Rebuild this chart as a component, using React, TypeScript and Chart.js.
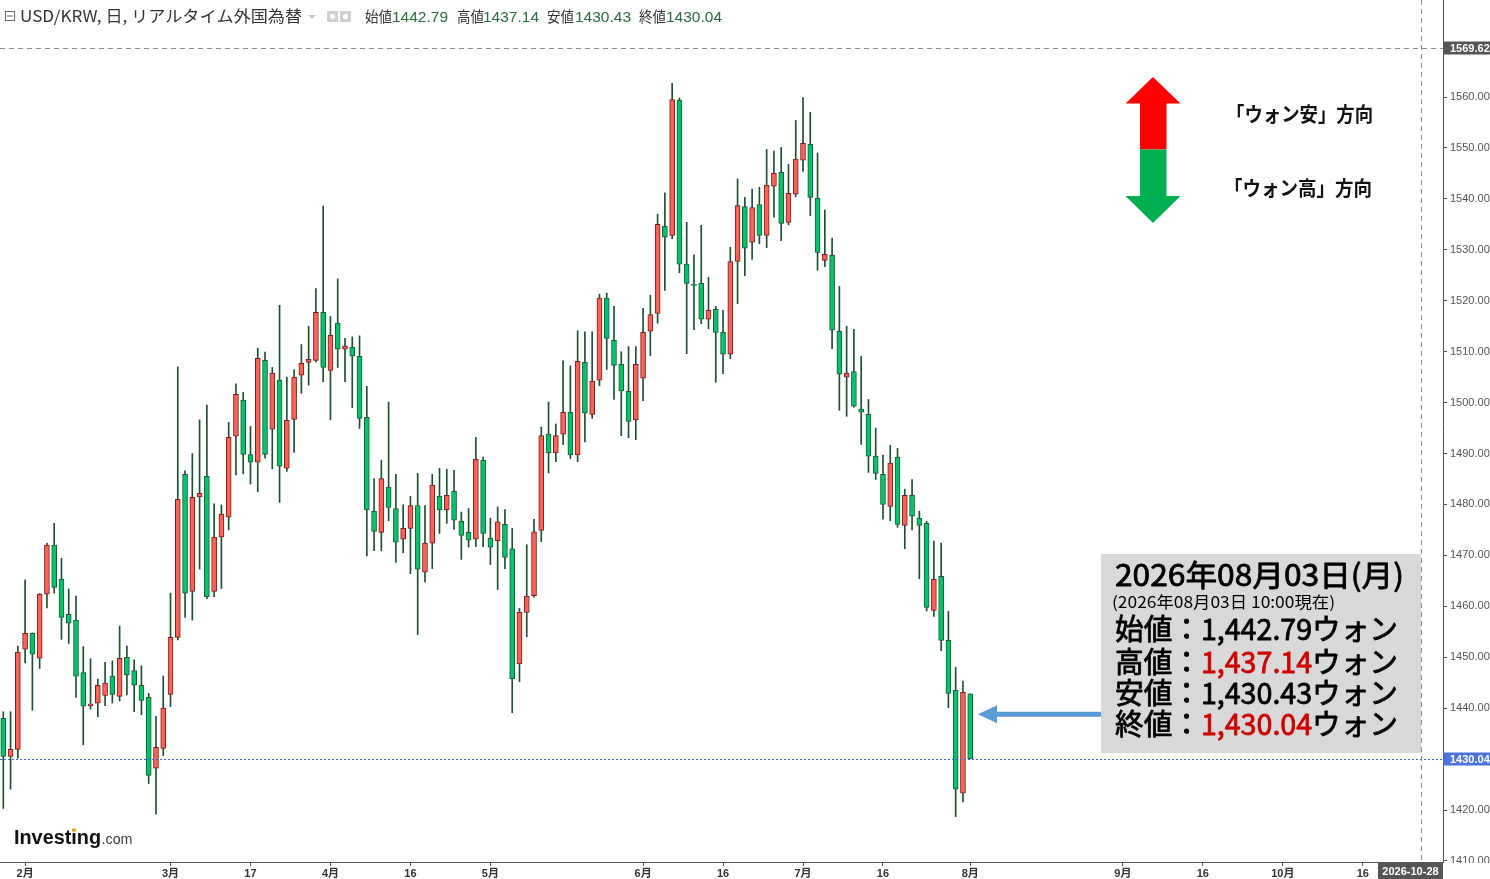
import React, { useEffect, useRef } from "react";
import { Chart, registerables } from "chart.js";

Chart.register(...registerables);

// ---- data (daily candles, 2026-01-28 .. 2026-08-03) ----
const opens = [
  1438.0, 1430.5, 1431.9, 1451.6, 1454.7, 1449.8, 1462.4, 1472.0, 1465.3, 1458.4,
  1457.3, 1447.0, 1440.5, 1441.0, 1442.5, 1446.3, 1442.3, 1450.0, 1447.4, 1444.5,
  1442.1, 1428.2, 1432.1, 1442.7, 1453.9, 1485.9, 1462.9, 1481.5, 1485.5, 1462.9,
  1473.6, 1477.5, 1493.4, 1500.5, 1489.8, 1488.3, 1508.3, 1494.8, 1504.4, 1487.1,
  1496.7, 1505.4, 1507.9, 1508.3, 1517.7, 1506.3, 1515.6, 1510.5, 1510.9, 1509.1,
  1497.1, 1478.7, 1474.5, 1483.4, 1479.2, 1473.2, 1475.3, 1479.8, 1466.7, 1472.4,
  1481.6, 1478.9, 1482.6, 1476.7, 1474.5, 1473.2, 1488.7, 1473.4, 1472.9, 1476.1,
  1471.3, 1448.7, 1458.8, 1462.1, 1474.9, 1493.8, 1490.1, 1493.8, 1498.1, 1489.7,
  1507.9, 1497.7, 1504.4, 1520.5, 1512.2, 1507.5, 1502.2, 1496.6, 1504.8, 1514.0,
  1517.5, 1534.6, 1532.8, 1559.4, 1527.2, 1523.2, 1523.4, 1516.4, 1518.3, 1513.8,
  1509.5, 1527.7, 1538.5, 1531.5, 1538.9, 1532.8, 1542.5, 1545.2, 1535.4, 1540.9,
  1547.6, 1550.7, 1540.1, 1527.9, 1528.9, 1514.0, 1505.0, 1506.1, 1498.7, 1497.7,
  1489.5, 1485.9, 1479.6, 1489.3, 1475.9, 1481.8, 1477.3, 1476.3, 1459.2, 1465.9,
  1453.3, 1443.5, 1423.3, 1442.79,
];
const highs = [
  1439.3, 1439.3, 1452.2, 1465.2, 1454.8, 1462.5, 1472.4, 1476.3, 1469.4, 1463.4,
  1462.0, 1452.1, 1449.7, 1445.7, 1449.0, 1449.3, 1456.1, 1452.2, 1449.5, 1448.3,
  1442.9, 1438.4, 1446.3, 1462.6, 1507.0, 1486.6, 1490.0, 1496.6, 1499.5, 1480.1,
  1479.9, 1496.1, 1503.7, 1502.0, 1495.3, 1510.7, 1509.9, 1506.9, 1519.1, 1505.0,
  1506.5, 1511.4, 1515.0, 1522.4, 1538.6, 1516.9, 1524.3, 1512.6, 1512.9, 1513.1,
  1503.2, 1485.1, 1488.7, 1500.1, 1485.9, 1479.9, 1481.6, 1486.1, 1479.8, 1485.9,
  1487.1, 1486.9, 1486.7, 1478.5, 1479.2, 1493.2, 1489.3, 1477.3, 1479.5, 1479.0,
  1475.3, 1459.6, 1472.1, 1477.1, 1495.2, 1500.1, 1495.8, 1508.2, 1507.2, 1514.1,
  1513.9, 1513.9, 1521.3, 1521.5, 1518.9, 1510.0, 1511.0, 1511.0, 1518.5, 1521.1,
  1537.0, 1541.2, 1562.7, 1559.8, 1535.4, 1529.0, 1534.8, 1524.6, 1518.9, 1518.1,
  1530.5, 1543.9, 1540.3, 1541.9, 1542.3, 1549.7, 1549.4, 1550.1, 1546.8, 1555.4,
  1559.9, 1557.0, 1549.0, 1537.8, 1532.3, 1522.8, 1515.0, 1514.4, 1509.1, 1500.6,
  1495.0, 1489.7, 1491.6, 1491.0, 1483.0, 1484.9, 1478.7, 1476.7, 1472.8, 1472.4,
  1459.0, 1448.0, 1445.3, 1442.79,
];
const lows = [
  1420.3, 1424.1, 1430.2, 1448.9, 1439.6, 1447.8, 1459.7, 1462.6, 1453.5, 1452.7,
  1442.1, 1432.8, 1439.8, 1438.3, 1440.5, 1441.0, 1441.4, 1442.6, 1439.3, 1438.7,
  1425.2, 1419.2, 1430.7, 1440.3, 1453.4, 1457.8, 1457.3, 1467.3, 1461.5, 1461.9,
  1463.5, 1475.0, 1485.8, 1486.0, 1484.0, 1482.5, 1489.1, 1487.0, 1480.4, 1486.5,
  1490.2, 1501.8, 1503.4, 1508.0, 1504.1, 1496.6, 1506.9, 1504.1, 1499.0, 1494.9,
  1469.9, 1470.9, 1470.9, 1476.8, 1468.6, 1470.5, 1466.4, 1454.4, 1464.8, 1467.4,
  1474.3, 1476.3, 1475.1, 1469.2, 1471.6, 1471.7, 1471.7, 1468.2, 1463.3, 1467.4,
  1439.1, 1445.2, 1454.0, 1461.8, 1472.7, 1486.2, 1488.4, 1491.8, 1489.0, 1488.4,
  1492.3, 1496.9, 1503.3, 1506.5, 1500.6, 1493.5, 1493.1, 1492.7, 1500.4, 1509.2,
  1515.6, 1522.0, 1532.2, 1525.5, 1509.6, 1514.3, 1515.5, 1514.5, 1504.0, 1505.7,
  1508.6, 1519.4, 1524.9, 1528.1, 1531.2, 1530.4, 1536.4, 1531.8, 1534.9, 1540.4,
  1545.4, 1536.7, 1526.0, 1526.7, 1510.6, 1498.5, 1497.3, 1499.1, 1491.8, 1486.3,
  1484.9, 1477.1, 1476.8, 1475.5, 1471.3, 1475.0, 1465.4, 1459.1, 1458.0, 1451.3,
  1440.1, 1418.7, 1421.6, 1430.04,
];
const closes = [
  1430.5, 1431.9, 1451.0, 1454.7, 1450.6, 1462.4, 1472.0, 1463.7, 1457.8, 1456.7,
  1446.3, 1440.4, 1440.8, 1444.5, 1444.9, 1442.7, 1449.8, 1446.5, 1444.5, 1441.5,
  1426.8, 1432.3, 1440.0, 1453.9, 1481.0, 1462.6, 1481.4, 1482.2, 1461.9, 1473.6,
  1478.1, 1493.2, 1501.6, 1489.8, 1488.3, 1508.7, 1489.8, 1505.8, 1487.5, 1496.5,
  1505.0, 1507.7, 1508.5, 1517.7, 1506.9, 1513.2, 1510.5, 1511.1, 1509.1, 1496.9,
  1478.9, 1474.7, 1485.1, 1479.4, 1472.6, 1475.3, 1479.8, 1467.3, 1472.4, 1483.8,
  1478.9, 1481.8, 1476.9, 1473.9, 1473.0, 1488.9, 1474.3, 1471.6, 1476.6, 1469.6,
  1445.8, 1458.8, 1462.0, 1474.6, 1493.5, 1490.1, 1493.5, 1498.1, 1489.7, 1508.1,
  1497.9, 1504.2, 1520.5, 1512.6, 1507.3, 1502.3, 1496.3, 1507.5, 1513.8, 1517.3,
  1535.0, 1532.5, 1559.5, 1527.2, 1523.4, 1523.0, 1516.4, 1518.1, 1513.8, 1509.5,
  1527.7, 1538.7, 1530.3, 1538.3, 1532.8, 1542.7, 1545.0, 1535.2, 1541.1, 1547.8,
  1550.9, 1540.3, 1529.5, 1529.1, 1514.2, 1505.6, 1505.8, 1499.3, 1498.1, 1489.5,
  1486.1, 1480.0, 1488.1, 1476.1, 1481.8, 1477.7, 1475.9, 1459.8, 1465.3, 1453.3,
  1442.9, 1424.1, 1443.1, 1430.04,
];

// x-axis tick positions (trading-day index) and their labels
const tickIndex = [3, 23, 34, 45, 56, 67, 88, 99, 110, 121, 133, 154, 165, 176, 187];
const tickLabels = ["2月", "3月", "17", "4月", "16", "5月", "6月", "16", "7月", "16", "8月", "9月", "16", "10月", "16"];
const priceTicks = [1410, 1420, 1430, 1440, 1450, 1460, 1470, 1480, 1490, 1500, 1510, 1520, 1530, 1540, 1550, 1560];

const lastClose = 1430.04;
const crossPrice = 1569.62;
const crossIndex = 195;
const crossDate = "2026-10-28";
const pointerPrice = 1438.8;

const headerTitle = "USD/KRW, 日, リアルタイム外国為替";
const headerLabels = ["始値", "高値", "安値", "終値"];
const headerValues = ["1442.79", "1437.14", "1430.43", "1430.04"];

const boxTitle = "2026年08月03日(月)";
const boxSub = "(2026年08月03日 10:00現在)";
const boxLabels = ["始値：", "高値：", "安値：", "終値："];
const boxValues = ["1,442.79", "1,437.14", "1,430.43", "1,430.04"];
const boxRed = [false, true, false, true];
const arrowTexts = ["「ウォン安」方向", "「ウォン高」方向"];

const RED_FILL = "#fb6356";
const RED_EDGE = "#7a1d1d";
const GREEN_FILL = "#00c46b";
const GREEN_EDGE = "#1b5a35";
const WICK = "#1d5030";

const LATIN = "'Liberation Sans', 'Noto Sans CJK JP', sans-serif";
const JP = "'Noto Sans CJK JP', 'Liberation Sans', sans-serif";

function fitText(
  ctx: CanvasRenderingContext2D,
  text: string,
  x: number,
  y: number,
  w: number,
  font: string,
  color: string,
  thicken = 0
) {
  ctx.save();
  ctx.font = font;
  ctx.textBaseline = "alphabetic";
  ctx.textAlign = "left";
  const m = ctx.measureText(text).width || 1;
  ctx.translate(x, y);
  ctx.scale(w / m, 1);
  ctx.fillStyle = color;
  ctx.fillText(text, 0, 0);
  if (thicken > 0) {
    ctx.strokeStyle = color;
    ctx.lineWidth = thicken;
    ctx.lineJoin = "round";
    ctx.strokeText(text, 0, 0);
  }
  ctx.restore();
}

function fitRuns(ctx: CanvasRenderingContext2D, runs: [string, string][], x: number, y: number, w: number, font: string, thicken = 0) {
  ctx.save();
  ctx.font = font;
  ctx.textBaseline = "alphabetic";
  ctx.textAlign = "left";
  let total = 0;
  for (const r of runs) total += ctx.measureText(r[0]).width;
  ctx.translate(x, y);
  ctx.scale(w / total, 1);
  let cx = 0;
  for (const [t, c] of runs) {
    ctx.fillStyle = c;
    ctx.fillText(t, cx, 0);
    if (thicken > 0) {
      ctx.strokeStyle = c;
      ctx.lineWidth = thicken;
      ctx.lineJoin = "round";
      ctx.strokeText(t, cx, 0);
    }
    cx += ctx.measureText(t).width;
  }
  ctx.restore();
}

function axisLabel(ctx: CanvasRenderingContext2D, text: string, cy: number, bg: string) {
  ctx.save();
  ctx.fillStyle = bg;
  ctx.fillRect(1443.5, Math.round(cy) - 6.5, 47, 13);
  ctx.fillStyle = "#ffffff";
  ctx.font = "bold 11px " + LATIN;
  ctx.textBaseline = "middle";
  ctx.textAlign = "left";
  ctx.fillText(text, 1450, Math.round(cy) + 0.5);
  ctx.restore();
}

const overlay = {
  id: "overlay",
  afterDatasetsDraw(chart: any) {
    const ctx: CanvasRenderingContext2D = chart.ctx;
    const { left, right, top, bottom } = chart.chartArea;
    const ys = chart.scales.y;
    const xs = chart.scales.x;
    ctx.save();
    const py = Math.round(ys.getPixelForValue(lastClose)) + 0.5;
    ctx.strokeStyle = "#3f63da";
    ctx.lineWidth = 1;
    ctx.setLineDash([2, 2]);
    ctx.beginPath();
    ctx.moveTo(left, py);
    ctx.lineTo(right, py);
    ctx.stroke();
    const cy = Math.round(ys.getPixelForValue(crossPrice)) + 0.5;
    const cx = Math.round(xs.getPixelForValue(crossIndex)) + 0.5;
    ctx.strokeStyle = "#8c8c8c";
    ctx.setLineDash([5, 4]);
    ctx.beginPath();
    ctx.moveTo(left, cy);
    ctx.lineTo(right, cy);
    ctx.moveTo(cx, top);
    ctx.lineTo(cx, bottom);
    ctx.stroke();
    ctx.restore();
  },
  afterDraw(chart: any) {
    const ctx: CanvasRenderingContext2D = chart.ctx;
    const ys = chart.scales.y;
    const { right, bottom } = chart.chartArea;

    ctx.save();
    ctx.fillStyle = "#ffffff";
    ctx.fillRect(right + 1, bottom + 1, 60, 30);
    ctx.restore();

    axisLabel(ctx, crossPrice.toFixed(2), ys.getPixelForValue(crossPrice), "#555555");
    axisLabel(ctx, lastClose.toFixed(2), ys.getPixelForValue(lastClose), "#4c72e2");

    ctx.save();
    ctx.fillStyle = "#555555";
    ctx.fillRect(1378, bottom + 1, right - 1378, 17);
    ctx.fillStyle = "#ffffff";
    ctx.font = "bold 11px " + LATIN;
    ctx.textAlign = "center";
    ctx.textBaseline = "middle";
    ctx.fillText(crossDate, (1378 + right) / 2, bottom + 10);
    ctx.restore();

    // ---- header ----
    ctx.save();
    ctx.strokeStyle = "#666";
    ctx.lineWidth = 1;
    ctx.strokeRect(5.5, 11.5, 9, 9);
    ctx.beginPath();
    ctx.moveTo(7, 16);
    ctx.lineTo(13, 16);
    ctx.stroke();
    ctx.restore();
    fitText(ctx, headerTitle, 20, 22, 282, "16px " + JP, "#333333");
    ctx.save();
    ctx.fillStyle = "#c4c4c4";
    ctx.beginPath();
    ctx.moveTo(308, 15);
    ctx.lineTo(316, 15);
    ctx.lineTo(312, 19);
    ctx.closePath();
    ctx.fill();
    for (const ix of [327, 340]) {
      ctx.fillStyle = "#d0d0d0";
      ctx.fillRect(ix, 11, 11, 11);
      ctx.fillStyle = "#ffffff";
      ctx.beginPath();
      ctx.arc(ix + 5.5, 16.5, 2.6, 0, Math.PI * 2);
      ctx.fill();
    }
    ctx.restore();
    const labX = [365, 457, 547, 639];
    const valX = [392, 483, 575, 666];
    for (let i = 0; i < 4; i++) {
      fitText(ctx, headerLabels[i], labX[i], 22, 27, "15px " + JP, "#333333");
      fitText(ctx, headerValues[i], valX[i], 22, 56, "15px " + LATIN, "#2a6c3c");
    }

    // ---- up/down arrow legend ----
    ctx.save();
    ctx.fillStyle = "#ff0000";
    ctx.beginPath();
    ctx.moveTo(1153, 77);
    ctx.lineTo(1180.5, 103.5);
    ctx.lineTo(1166.5, 103.5);
    ctx.lineTo(1166.5, 149.5);
    ctx.lineTo(1140, 149.5);
    ctx.lineTo(1140, 103.5);
    ctx.lineTo(1125.5, 103.5);
    ctx.closePath();
    ctx.fill();
    ctx.fillStyle = "#00b050";
    ctx.beginPath();
    ctx.moveTo(1140, 149.5);
    ctx.lineTo(1166.5, 149.5);
    ctx.lineTo(1166.5, 196);
    ctx.lineTo(1180.5, 196);
    ctx.lineTo(1153, 223);
    ctx.lineTo(1125.5, 196);
    ctx.lineTo(1140, 196);
    ctx.closePath();
    ctx.fill();
    ctx.restore();
    fitText(ctx, arrowTexts[0], 1226, 122, 147, "bold 20px " + JP, "#111111");
    fitText(ctx, arrowTexts[1], 1224, 196, 148, "bold 20px " + JP, "#111111");

    // ---- info box ----
    ctx.save();
    ctx.fillStyle = "#d9d9d9";
    ctx.fillRect(1101, 554, 320, 199);
    ctx.restore();
    fitText(ctx, boxTitle, 1115, 586, 289, "30px " + JP, "#000000", 0.8);
    fitText(ctx, boxSub, 1112, 608, 223, "16px " + JP, "#000000");
    const rowY = [640, 672.5, 703.5, 735];
    for (let i = 0; i < 4; i++) {
      fitRuns(
        ctx,
        [
          [boxLabels[i], "#000000"],
          [boxValues[i], boxRed[i] ? "#cc0000" : "#000000"],
          ["ウォン", "#000000"],
        ],
        1115,
        rowY[i],
        283,
        "29px " + JP,
        0.8
      );
    }

    // ---- blue pointer arrow ----
    const ay = ys.getPixelForValue(pointerPrice);
    ctx.save();
    ctx.fillStyle = "#5b9bd5";
    ctx.fillRect(996, ay - 2.5, 1101 - 996, 5);
    ctx.beginPath();
    ctx.moveTo(978, ay);
    ctx.lineTo(997, ay - 9);
    ctx.lineTo(997, ay + 9);
    ctx.closePath();
    ctx.fill();
    ctx.restore();

    // ---- Investing.com logo ----
    ctx.save();
    ctx.font = "bold 20px " + LATIN;
    const wInv = ctx.measureText("Investing").width;
    const sInv = 87 / wInv;
    const iPos = (ctx.measureText("Invest").width + ctx.measureText("i").width / 2) * sInv;
    ctx.restore();
    fitText(ctx, "Investing", 14, 844, 87, "bold 20px " + LATIN, "#111111");
    fitText(ctx, ".com", 101.5, 844, 31, "15px " + LATIN, "#3a3a3a");
    ctx.save();
    ctx.fillStyle = "#f5a01a";
    ctx.fillRect(14 + iPos - 1.6, 828.5, 3.2, 3.2);
    ctx.restore();
  },
};

export default function App() {
  const ref = useRef<HTMLCanvasElement | null>(null);

  useEffect(() => {
    if (!ref.current) return;
    const idx = opens.map((_, i) => i);
    const up = idx.map((i) => closes[i] >= opens[i]);
    const chart = new Chart(ref.current, {
      type: "bar",
      data: {
        datasets: [
          {
            label: "body",
            data: idx.map((i) => ({ x: i, y: [opens[i], closes[i]] })) as any,
            backgroundColor: up.map((u) => (u ? RED_FILL : GREEN_FILL)),
            borderColor: up.map((u) => (u ? RED_EDGE : GREEN_EDGE)),
            borderWidth: 1,
            borderSkipped: false,
            barThickness: 5,
            grouped: false,
            order: 0,
          } as any,
          {
            label: "wick",
            data: idx.map((i) => ({ x: i, y: [lows[i], highs[i]] })) as any,
            backgroundColor: WICK,
            borderWidth: 0,
            barThickness: 1,
            grouped: false,
            order: 1,
          } as any,
        ],
      },
      options: {
        animation: false,
        responsive: false,
        events: [],
        layout: { padding: 0 },
        plugins: { legend: { display: false }, tooltip: { enabled: false } },
        scales: {
          x: {
            type: "linear",
            min: -0.454,
            max: 198.03,
            offset: false,
            grid: { display: true, offset: false, drawOnChartArea: false, drawTicks: true, tickLength: 4, color: "#555555" },
            border: { display: true, color: "#555555" },
            ticks: {
              autoSkip: false,
              maxRotation: 0,
              padding: 1,
              color: "#333333",
              font: { size: 11, weight: "bold", family: LATIN },
              callback: (_v: any, i: number) => tickLabels[i] ?? "",
            },
            afterBuildTicks: (s: any) => {
              s.ticks = tickIndex.map((v) => ({ value: v }));
            },
            afterFit: (s: any) => {
              s.height = 17;
              s.paddingLeft = 0;
              s.paddingRight = 0;
            },
          } as any,
          y: {
            type: "linear",
            position: "right",
            min: 1409.79,
            max: 1579.05,
            grid: { display: true, offset: false, drawOnChartArea: false, drawTicks: true, tickLength: 4, color: "#555555" },
            border: { display: true, color: "#555555" },
            ticks: {
              padding: 3,
              color: "#555555",
              font: { size: 11, family: LATIN },
              callback: (v: any) => Number(v).toFixed(2),
            },
            afterBuildTicks: (s: any) => {
              s.ticks = priceTicks.map((v) => ({ value: v }));
            },
            afterFit: (s: any) => {
              s.width = 47;
              s.paddingTop = 0;
              s.paddingBottom = 0;
            },
          } as any,
        },
      },
      plugins: [overlay],
    });
    return () => chart.destroy();
  }, []);

  return (
    <div style={{ position: "fixed", left: 0, top: 0, width: 1490, height: 879, background: "#ffffff" }}>
      <canvas ref={ref} width={1490} height={879} style={{ width: 1490, height: 879, display: "block" }} />
    </div>
  );
}
